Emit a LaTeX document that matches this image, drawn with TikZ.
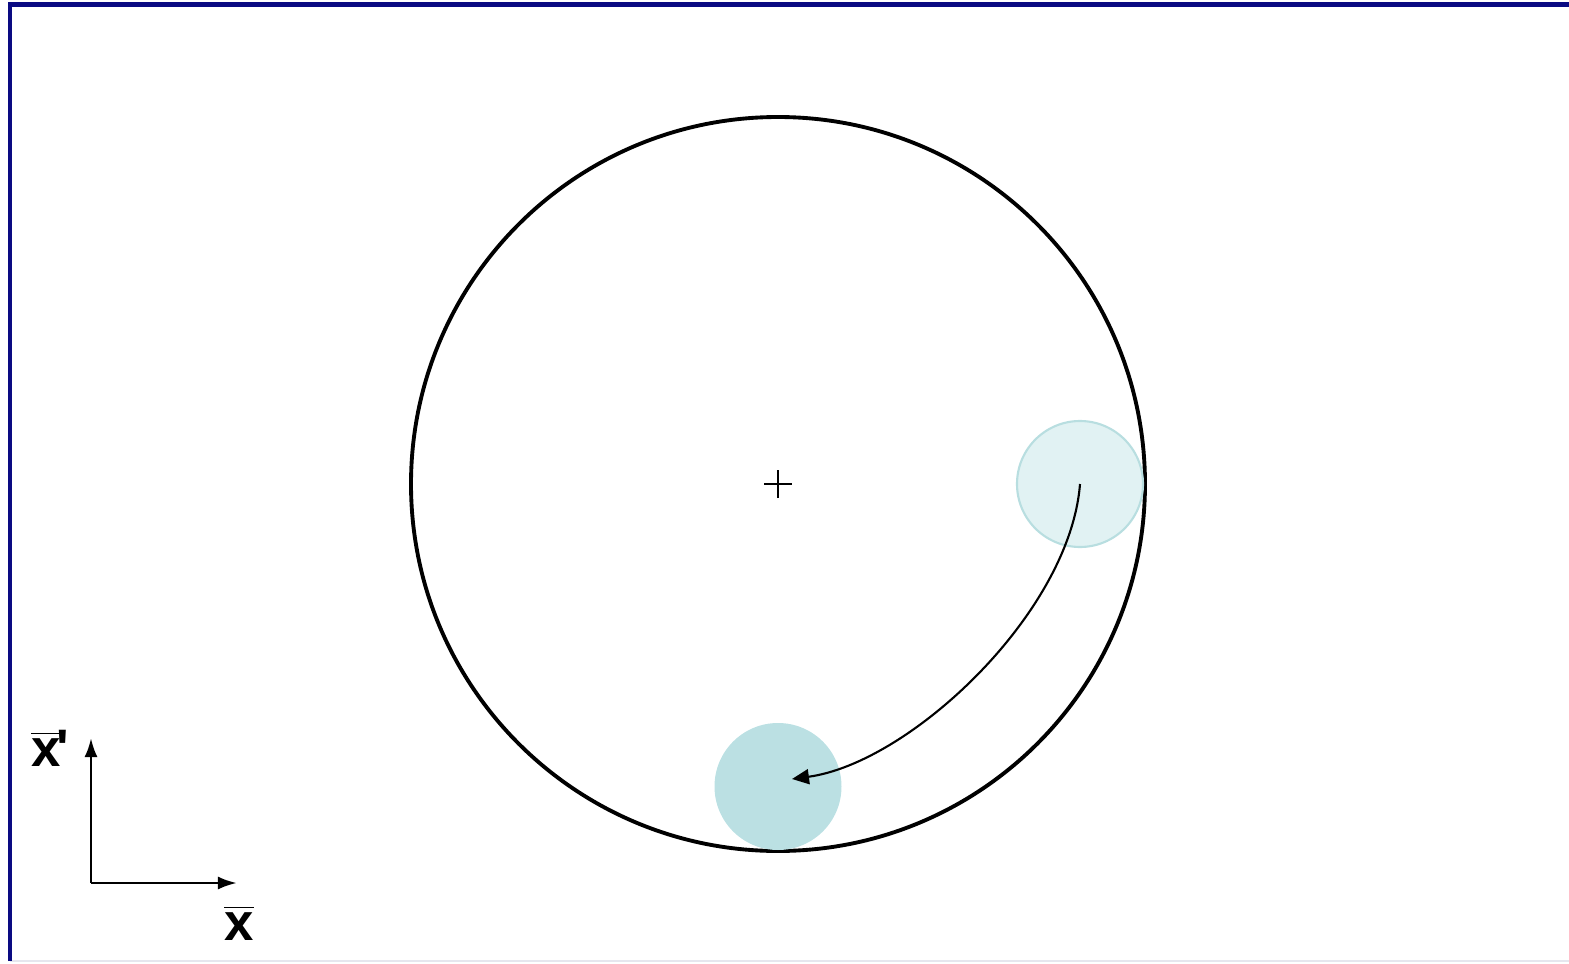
\documentclass[tikz,border=0pt]{standalone}
\usepackage{fontspec}
\setmainfont{Liberation Sans}
\usetikzlibrary{arrows.meta}
\definecolor{frameblue}{RGB}{10,10,130}
\definecolor{puckpale}{RGB}{225,242,243}
\definecolor{puckedge}{RGB}{184,222,224}
\definecolor{puckdark}{RGB}{187,224,227}
\definecolor{lowline}{RGB}{230,230,238}
\tikzset{
    ring/.style={circle, draw=black, line width=1.1pt, minimum size=7.34cm, inner sep=0pt},
    puckold/.style={circle, fill=puckpale, draw=puckedge, line width=0.6pt, minimum size=1.26cm, inner sep=0pt},
    pucknew/.style={circle, fill=puckdark, minimum size=1.27cm, inner sep=0pt},
    axislabel/.style={font=\fontsize{15}{17}\selectfont\bfseries, inner sep=0pt},
    axisline/.style={line width=0.8pt, -{Latex[length=0.19cm, width=0.13cm]}}
}
\begin{document}
\begin{tikzpicture}
        	% Frame:
        	\useasboundingbox (0, 0) rectangle (15.69, 9.63);
        	\draw[lowline, line width=0.6pt] (0.1, 0.02) -- (15.69, 0.02);
        	\draw[frameblue, line width=1.2pt] (0.1, 0.02) -- (0.1, 9.585) -- (15.69, 9.585);
        	% Ring and pucks:
        	\node[ring] (Ring) at (7.78, 4.79){};
        	\node[puckold] (P1) at (10.8, 4.79){};
        	\node[pucknew] (P2) at (7.78, 1.765){};
        	\draw[line width=0.5pt] ([xshift=-0.14cm]Ring.center) -- ([xshift=0.14cm]Ring.center);
        	\draw[line width=0.5pt] ([yshift=-0.14cm]Ring.center) -- ([yshift=0.14cm]Ring.center);
        	\coordinate (T1) at (7.92, 1.84);
        	\draw[line width=0.6pt, -{Triangle[length=0.17cm, width=0.15cm]}] (P1.center) .. controls (10.7, 3.5) and (9.1, 2.0) .. (T1);
        	% Axes:
        	\coordinate (O) at (0.91, 0.8);
        	\coordinate (Yend) at (0.91, 2.25);
        	\coordinate (Xend) at (2.37, 0.8);
        	\draw[axisline] (O) -- (Yend);
        	\draw[axisline] (O) -- (Xend);
        	\node[axislabel] (N1) at (0.5, 2.15){$\overline{\textbf{x}}$\kern-0.08em\textquotesingle};
        	\node[axislabel] (N2) at (2.39, 0.4){$\overline{\textbf{x}}$};
\end{tikzpicture}
\end{document}
